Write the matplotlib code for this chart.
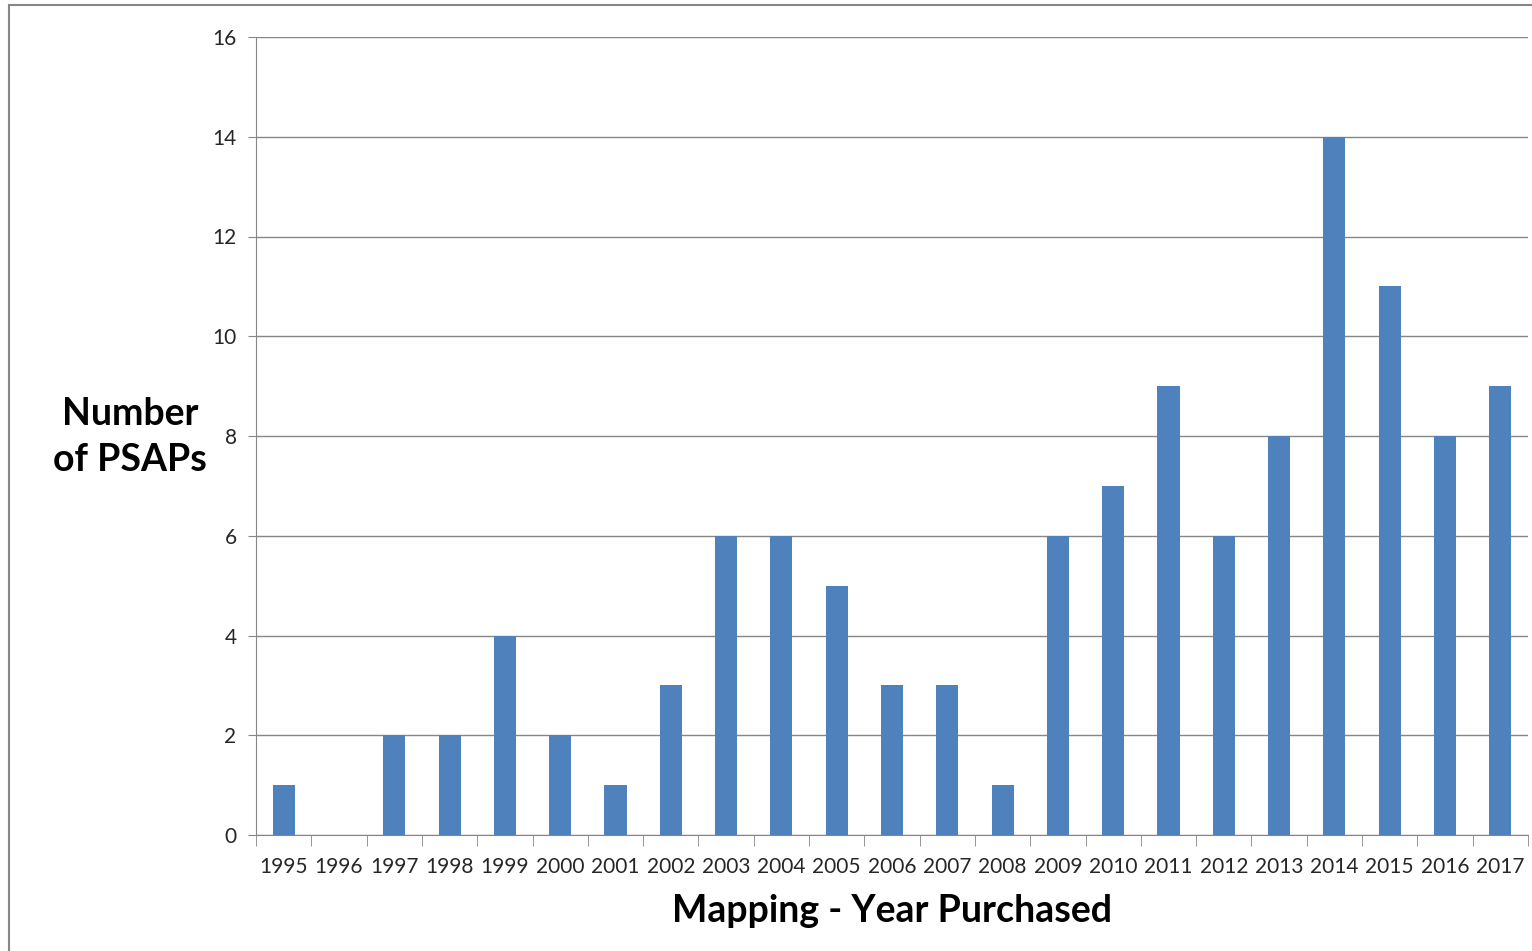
import matplotlib
matplotlib.use('Agg')
import matplotlib.pyplot as plt
from matplotlib.patches import Rectangle

years = [str(y) for y in range(1995, 2018)]
counts = [1, 0, 2, 2, 4, 2, 1, 3, 6, 6, 5, 3, 3, 1, 6, 7, 9, 6, 8, 14, 11, 8, 9]

plt.rcParams['font.family'] = ['Lato', 'DejaVu Sans']

fig = plt.figure(figsize=(15.32, 9.51), dpi=100)
ax = fig.add_axes([256 / 1532, 1 - 835 / 951, (1528 - 256) / 1532, (835 - 37) / 951])

# chart frame (only top/left visible in the reference)
fig.add_artist(Rectangle((9 / 1532, -0.1), 1.2, 1 - 5 / 951 + 0.1, transform=fig.transFigure,
                         fill=False, edgecolor='#868686', linewidth=1.5))

x = list(range(len(years)))
ax.bar(x, counts, width=0.4, color='#4F81BD', zorder=3)

ax.set_xlim(-0.5, len(years) - 0.5)
ax.set_ylim(0, 16)
ax.set_yticks(range(0, 17, 2))
ax.set_xticks(x)
ax.set_xticklabels(years)
ax.set_xticks([i - 0.5 for i in range(len(years) + 1)], minor=True)
ax.tick_params(axis='x', which='major', length=0, pad=16, labelsize=15, colors='#262626')
ax.tick_params(axis='x', which='minor', length=8, color='#868686')
ax.tick_params(axis='y', length=6, color='#868686', pad=8, labelsize=15, labelcolor='#262626')

ax.grid(axis='y', color='#868686', linewidth=1, zorder=0)
for s in ['top', 'right']:
    ax.spines[s].set_visible(False)
for s in ['left', 'bottom']:
    ax.spines[s].set_color('#868686')

fig.text(130 / 1532, 1 - 437 / 951, 'Number\nof PSAPs', ha='center', va='center',
         fontsize=27, fontweight='bold', linespacing=1.42)
fig.text(892 / 1532, 1 - 911 / 951, 'Mapping - Year Purchased', ha='center', va='center',
         fontsize=27, fontweight='bold')

fig.savefig('out.png', dpi=100)
